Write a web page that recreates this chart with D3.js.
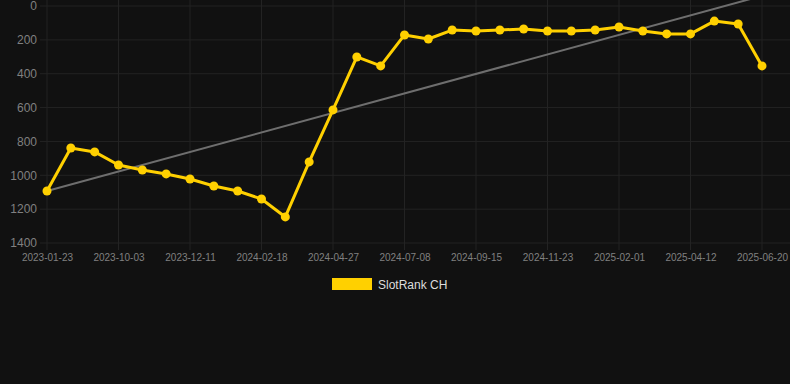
<!DOCTYPE html>
<html><head><meta charset="utf-8">
<script src="https://cdn.jsdelivr.net/npm/d3@7"></script>
<style>html,body{margin:0;padding:0;background:#111111;}svg{display:block;}</style>
</head><body>
<svg id="c" width="790" height="384"></svg>
<script>
const dates = ["2023-01-23","2023-06-01","2023-08-10","2023-10-03","2023-10-24","2023-11-14","2023-12-11","2024-01-01","2024-01-22","2024-02-18","2024-03-10","2024-04-03","2024-04-27","2024-05-20","2024-06-14","2024-07-08","2024-07-31","2024-08-23","2024-09-15","2024-10-08","2024-10-31","2024-11-23","2024-12-16","2025-01-08","2025-02-01","2025-02-24","2025-03-19","2025-04-12","2025-05-05","2025-05-28","2025-06-20"];
const ranks = [1093,839,862,939,969,992,1022,1063,1093,1140,1246,921,614,301,354,171,195,142,148,142,136,148,148,142,124,148,165,165,89,106,354];
const trend = [1093, -60];
const yTicks = [0,200,400,600,800,1000,1200,1400];
const seriesName = "SlotRank CH";

const svg = d3.select("#c");
const x = d3.scalePoint().domain(d3.range(dates.length)).range([47, 762]);
const y = d3.scaleLinear().domain([0, 1400]).range([6, 243]);
const gridColor = "#232323";
const textColor = "#808080";
const font = "Liberation Sans, Arial, sans-serif";

svg.append("g").selectAll("line").data(yTicks).join("line")
  .attr("x1", 40).attr("x2", 790)
  .attr("y1", d => y(d)).attr("y2", d => y(d))
  .attr("stroke", gridColor).attr("stroke-width", 1);
const labelled = d3.range(0, dates.length, 3);
svg.append("g").selectAll("line").data(labelled).join("line")
  .attr("x1", d => x(d)).attr("x2", d => x(d))
  .attr("y1", 0).attr("y2", 250)
  .attr("stroke", gridColor).attr("stroke-width", 1);

const yAxis = d3.axisLeft(y).tickValues(yTicks).tickFormat(d3.format("d")).tickSize(0).tickPadding(0);
const gy = svg.append("g").attr("transform", "translate(37,0)").call(yAxis);
gy.select(".domain").remove();
gy.selectAll("text").attr("fill", textColor).attr("font-family", font).attr("font-size", 12);

const xAxis = d3.axisBottom(x).tickValues(labelled).tickFormat(i => dates[i]).tickSize(0).tickPadding(0);
const gx = svg.append("g").attr("transform", "translate(0,254)").call(xAxis);
gx.select(".domain").remove();
gx.selectAll("text").attr("fill", textColor).attr("font-family", font).attr("font-size", 10);

svg.append("line")
  .attr("x1", x(0)).attr("y1", y(trend[0]))
  .attr("x2", x(dates.length - 1)).attr("y2", y(trend[1]))
  .attr("stroke", "#6e6e6e").attr("stroke-width", 2);

const line = d3.line().x((d, i) => x(i)).y(d => y(d));
svg.append("path").datum(ranks).attr("d", line)
  .attr("fill", "none").attr("stroke", "#FFD000").attr("stroke-width", 3).attr("stroke-linejoin", "round");
svg.append("g").selectAll("circle").data(ranks).join("circle")
  .attr("cx", (d, i) => x(i)).attr("cy", d => y(d)).attr("r", 4.5)
  .attr("fill", "#FFD000");

svg.append("rect").attr("x", 332).attr("y", 278).attr("width", 40).attr("height", 12).attr("fill", "#FFD000");
svg.append("text").attr("x", 378).attr("y", 289).text(seriesName)
  .attr("fill", "#dddddd").attr("font-family", font).attr("font-size", 12);
</script>
</body></html>
